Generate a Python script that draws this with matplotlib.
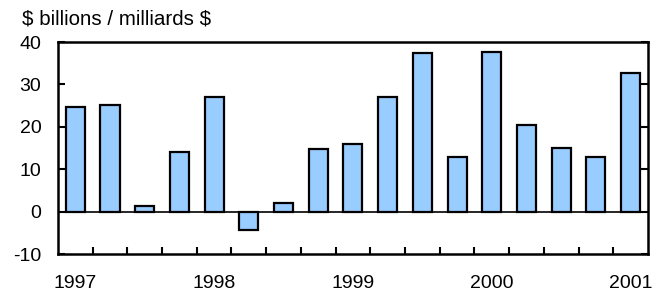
import matplotlib.pyplot as plt
import numpy as np

plt.rcParams['font.family'] = ['Liberation Sans', 'DejaVu Sans']
plt.rcParams['axes.unicode_minus'] = False

# quarterly values, 1997 Q1 .. 2001 Q1
valores = [24.7, 25.1, 1.4, 14.1, 27.0, -4.3, 2.1, 14.8, 15.9,
           27.0, 37.3, 12.9, 37.7, 20.4, 15.1, 12.9, 32.8]
anos = ['1997', '1998', '1999', '2000', '2001']
pos_anos = [0, 4, 8, 12, 16]

fig = plt.figure(figsize=(6.61, 2.92), dpi=100)
ax = fig.add_axes([0.0877, 0.130, 0.8925, 0.726])

x = np.arange(len(valores))
ax.bar(x, valores, width=0.55, color='#99ccff', edgecolor='black', linewidth=1.6, zorder=2)
ax.axhline(0, color='black', linewidth=1.2, zorder=3)

ax.set_xlim(-0.5, len(valores) - 0.5)
ax.set_ylim(-10, 40)
ax.set_yticks([-10, 0, 10, 20, 30, 40])

# ticks between categories, labels under the first quarter of each year
ax.set_xticks(np.arange(0.5, len(valores) - 1, 1.0))
ax.set_xticklabels([])
ax.set_xticks(pos_anos, minor=True)
ax.set_xticklabels(anos, minor=True, fontsize=14)
ax.tick_params(axis='x', which='major', direction='in', length=5, width=1.5)
ax.tick_params(axis='x', which='minor', length=0, pad=15)
ax.tick_params(axis='y', direction='in', length=5, width=1.5, right=True, labelsize=14, pad=12)

for s in ax.spines.values():
    s.set_linewidth(1.8)

fig.text(0.033, 0.935, '\\$ billions / milliards \\$', fontsize=14.8, va='center')

fig.savefig('out.png', dpi=100)
